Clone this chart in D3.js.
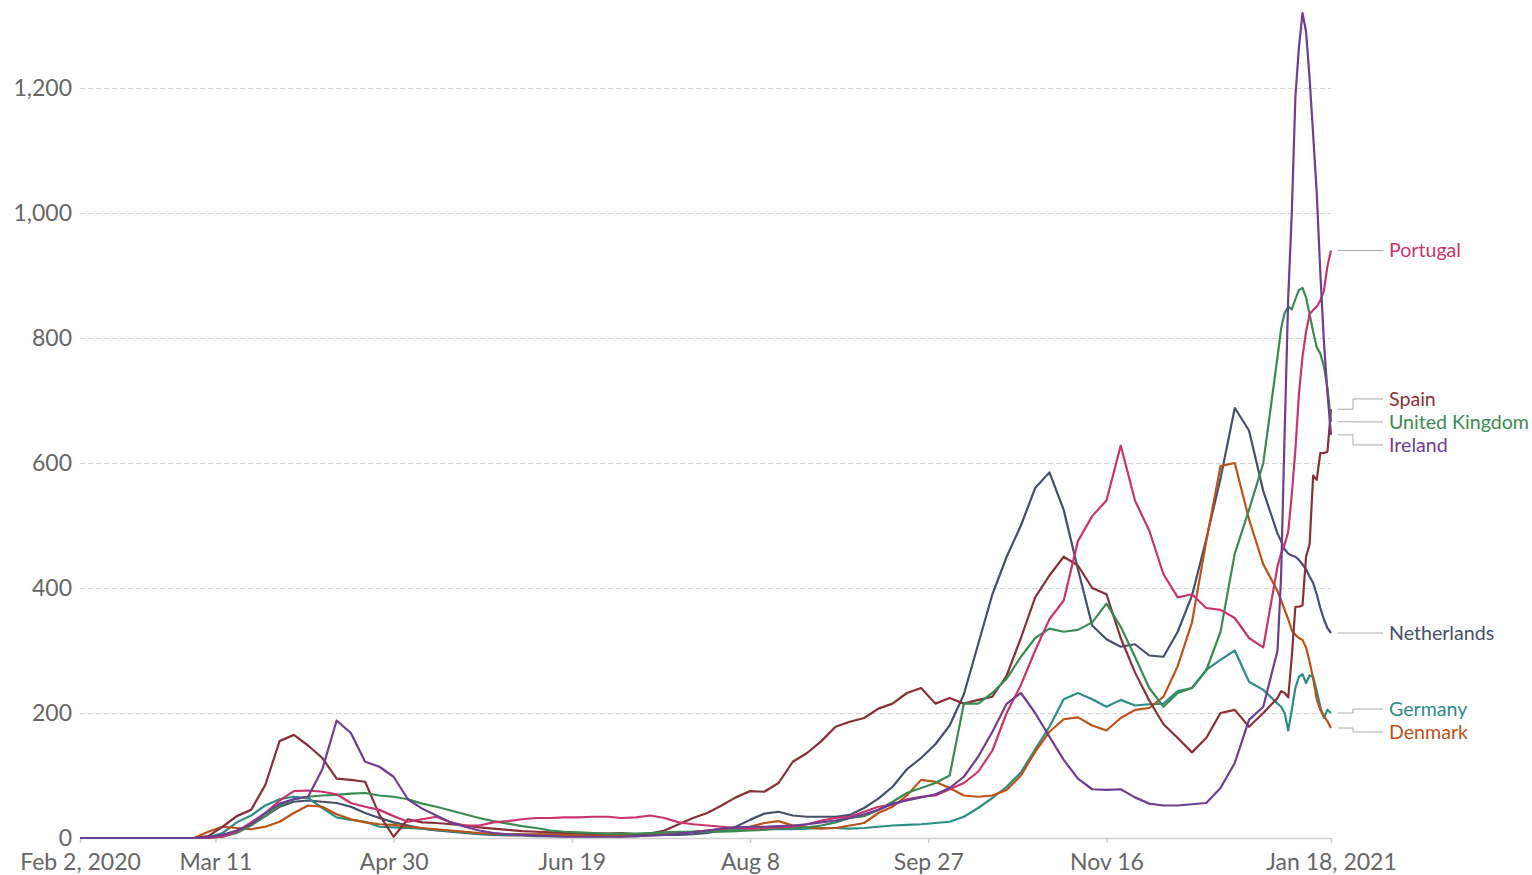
<!DOCTYPE html>
<html>
<head>
<meta charset="utf-8">
<script src="https://cdn.jsdelivr.net/npm/d3@7"></script>
<style>
  html, body { margin: 0; padding: 0; background: #fff; }
  svg { display: block; font-family: Lato, "Open Sans", sans-serif; }
</style>
</head>
<body>
<svg id="chart" width="1532" height="875"></svg>
<script>
// Daily new confirmed COVID-19 cases per million people (rolling average)
// Sample days, counted from 2 Feb 2020
const dayOffsets = [
  0,4,8,12,16,20,24,28,32,36,
  40,44,48,52,56,60,64,68,72,76,
  80,84,88,92,96,100,104,108,112,116,
  120,124,128,132,136,140,144,148,152,156,
  160,164,168,172,176,180,184,188,192,196,
  200,204,208,212,216,220,224,228,232,236,
  240,244,248,252,256,260,264,268,272,276,
  280,284,288,292,296,300,304,308,312,316,
  320,324,328,332,336,
  337,338,339,340,341,342,343,344,345,346,
  347,348,349,350,351
];

const countries = ["Portugal", "Spain", "United Kingdom", "Ireland", "Netherlands", "Germany", "Denmark"];

const portugal = [
  0,0,0,0,0,0,0,0,0,0,
  2,10,25,40,60,75,76,74,70,56,
  50,45,35,26,30,34,25,20,20,25,
  27,30,32,32,33,33,34,34,32,33,
  36,32,25,22,20,18,16,15,16,17,
  18,22,28,32,34,42,50,53,62,66,
  68,78,88,106,140,200,245,300,350,380,
  475,515,540,628,540,492,422,385,390,368,
  365,352,320,305,435,
  455,470,490,550,620,710,770,810,838,845,
  850,860,875,915,940
];

const spain = [
  0,0,0,0,0,0,0,0,0,3,
  18,35,45,85,155,165,148,128,95,93,
  90,37,2,30,25,24,22,20,17,15,
  13,11,10,9,8,8,7,7,8,6,
  7,12,22,32,40,52,65,75,74,88,
  122,136,155,178,186,192,207,215,232,240,
  215,224,215,221,226,260,320,385,420,450,
  436,400,390,320,265,220,182,160,137,160,
  200,205,178,200,224,
  235,232,225,290,370,370,372,450,470,580,
  573,616,616,618,686
];

const unitedKingdom = [
  0,0,0,0,0,0,0,0,0,0,
  2,8,20,35,52,62,66,68,69,71,
  72,68,66,62,55,50,44,38,32,27,
  23,19,16,12,10,9,8,7,7,7,
  8,9,10,10,10,10,11,12,13,15,
  16,17,20,25,32,35,45,58,72,80,
  88,100,215,215,232,255,290,320,335,330,
  333,345,375,338,290,240,210,232,240,268,
  330,455,525,600,770,
  815,840,850,846,862,877,880,865,838,810,
  785,775,755,720,666
];

const ireland = [
  0,0,0,0,0,0,0,0,0,1,
  5,12,22,40,55,62,66,110,188,168,
  122,114,98,62,47,36,25,18,12,8,
  6,5,4,3,2,2,2,2,2,3,
  4,5,7,9,12,15,17,18,18,19,
  20,22,25,28,32,38,45,55,60,65,
  70,80,98,130,170,215,232,200,162,125,
  95,78,77,78,65,55,52,52,54,56,
  80,120,189,210,300,
  420,650,865,1000,1185,1265,1320,1290,1215,1125,
  1032,905,795,712,645
];

const netherlands = [
  0,0,0,0,0,0,0,0,0,1,
  3,10,22,35,50,58,60,58,56,50,
  40,32,25,20,15,12,10,8,6,5,
  4,4,3,3,3,3,3,3,3,3,
  4,5,5,6,8,12,18,29,39,42,
  36,34,34,34,37,48,63,82,110,128,
  150,180,230,310,390,450,500,560,585,525,
  430,340,318,306,310,292,290,330,388,478,
  575,688,652,555,487,
  475,462,455,452,450,445,438,430,418,408,
  390,368,350,336,328
];

const germany = [
  0,0,0,0,0,0,0,0,0,1,
  8,25,36,52,62,66,64,48,33,29,
  26,18,17,16,15,13,11,9,7,6,
  5,5,5,5,5,5,5,5,5,5,
  6,7,8,10,11,12,14,15,15,14,
  14,15,16,16,15,16,18,20,21,22,
  24,26,34,48,64,82,105,142,178,222,
  232,222,210,221,212,214,215,235,240,269,
  285,300,250,237,215,
  210,200,172,205,240,258,262,248,260,258,
  235,210,192,205,200
];

const denmark = [
  0,0,0,0,0,0,0,0,0,10,
  18,16,14,18,26,40,52,50,38,30,
  25,22,21,18,16,14,12,10,8,7,
  6,6,6,6,5,5,5,5,5,6,
  7,8,9,10,12,14,16,18,24,27,
  20,17,15,16,20,24,40,50,68,93,
  90,80,68,66,68,77,100,138,170,190,
  193,180,172,192,205,208,226,275,345,475,
  595,600,510,438,395,
  380,365,350,332,325,320,317,305,282,255,
  222,205,195,187,176
];

const seriesValues = [portugal, spain, unitedKingdom, ireland, netherlands, germany, denmark];
const seriesColors = ["#c8346c", "#883039", "#3a8b52", "#6d3e91", "#46506a", "#2e8d86", "#bb5218"];

const xTickDates = ["2020-02-02", "2020-03-11", "2020-04-30", "2020-06-19", "2020-08-08", "2020-09-27", "2020-11-16", "2021-01-18"];
const yTickValues = [0, 200, 400, 600, 800, 1000, 1200];

// ---------------------------------------------------------------
const svg = d3.select("#chart");
const startDate = new Date(Date.UTC(2020, 1, 2));
const endDate = new Date(Date.UTC(2021, 0, 18));
const dayToDate = d => d3.utcDay.offset(startDate, d);

const plot = { left: 80, right: 1331, bottom: 838, top: 88 };

const x = d3.scaleUtc().domain([startDate, endDate]).range([plot.left, plot.right]);
const y = d3.scaleLinear().domain([0, 1200]).range([plot.bottom, plot.top]);

// Gridlines + y labels
const yAxis = d3.axisLeft(y)
  .tickValues(yTickValues)
  .tickFormat(d3.format(","))
  .tickSize(-(plot.right - plot.left))
  .tickPadding(8);

const gy = svg.append("g")
  .attr("transform", `translate(${plot.left},0)`)
  .call(yAxis);
gy.select(".domain").remove();
gy.selectAll(".tick line")
  .attr("stroke", "#d4d4d4")
  .attr("stroke-width", 1)
  .attr("stroke-dasharray", "5,3");
gy.selectAll(".tick text")
  .attr("fill", "#666")
  .style("font-size", "23px")
  .style("font-family", "Lato, sans-serif");

// X axis
const parseISO = d3.utcParse("%Y-%m-%d");
const tickDates = xTickDates.map(parseISO);
const fmtShort = d3.utcFormat("%b %-d");
const fmtLong = d3.utcFormat("%b %-d, %Y");
const xAxis = d3.axisBottom(x)
  .tickValues(tickDates)
  .tickFormat((d, i) => (i === 0 || i === tickDates.length - 1) ? fmtLong(d) : fmtShort(d))
  .tickSizeInner(5)
  .tickSizeOuter(0)
  .tickPadding(11);

const gx = svg.append("g")
  .attr("transform", `translate(0,${plot.bottom})`)
  .call(xAxis);
gx.select(".domain").attr("stroke", "#cfcfcf").attr("stroke-width", 1.5);
gx.selectAll(".tick line").attr("stroke", "#cfcfcf").attr("stroke-width", 1.5);
gx.selectAll(".tick text")
  .attr("fill", "#666")
  .style("font-size", "23px")
  .style("font-family", "Lato, sans-serif");

// Lines
const line = d3.line()
  .x((d, i) => x(dayToDate(dayOffsets[i])))
  .y(d => y(d))
  .curve(d3.curveLinear);

const drawOrder = [4, 5, 6, 1, 2, 0, 3];
svg.append("g")
  .selectAll("path")
  .data(drawOrder)
  .join("path")
  .attr("fill", "none")
  .attr("stroke", i => seriesColors[i])
  .attr("stroke-width", 2.2)
  .attr("stroke-linejoin", "round")
  .attr("d", i => line(seriesValues[i]));

// End labels with simple collision avoidance
const labelGap = 23;
let nodes = countries.map((name, i) => {
  const v = seriesValues[i][seriesValues[i].length - 1];
  return { name, color: seriesColors[i], target: y(v), pos: y(v) };
}).sort((a, b) => a.target - b.target);

let clusters = nodes.map(n => ({ members: [n] }));
function placeCluster(c) {
  const mean = d3.mean(c.members, m => m.target);
  const h = (c.members.length - 1) * labelGap;
  c.members.forEach((m, k) => { m.pos = mean - h / 2 + k * labelGap; });
}
clusters.forEach(placeCluster);
let merged = true;
while (merged) {
  merged = false;
  for (let i = 0; i < clusters.length - 1; i++) {
    const a = clusters[i], b = clusters[i + 1];
    const aLast = a.members[a.members.length - 1].pos;
    const bFirst = b.members[0].pos;
    if (bFirst - aLast < labelGap) {
      a.members = a.members.concat(b.members);
      clusters.splice(i + 1, 1);
      placeCluster(a);
      merged = true;
      break;
    }
  }
}

const leaderStart = plot.right + 7;
const elbowX = plot.right + 22;
const leaderEnd = plot.right + 52;
const labelX = plot.right + 58;

const gl = svg.append("g");
gl.selectAll("path")
  .data(nodes)
  .join("path")
  .attr("fill", "none")
  .attr("stroke", "#aaa")
  .attr("stroke-width", 1)
  .attr("d", d => `M${leaderStart},${d.target}H${elbowX}V${d.pos}H${leaderEnd}`);

gl.selectAll("text")
  .data(nodes)
  .join("text")
  .attr("x", labelX)
  .attr("y", d => d.pos)
  .attr("dy", "0.35em")
  .attr("fill", d => d.color)
  .style("font-size", "19.6px")
  .style("font-family", "Lato, sans-serif")
  .text(d => d.name);
</script>
</body>
</html>
